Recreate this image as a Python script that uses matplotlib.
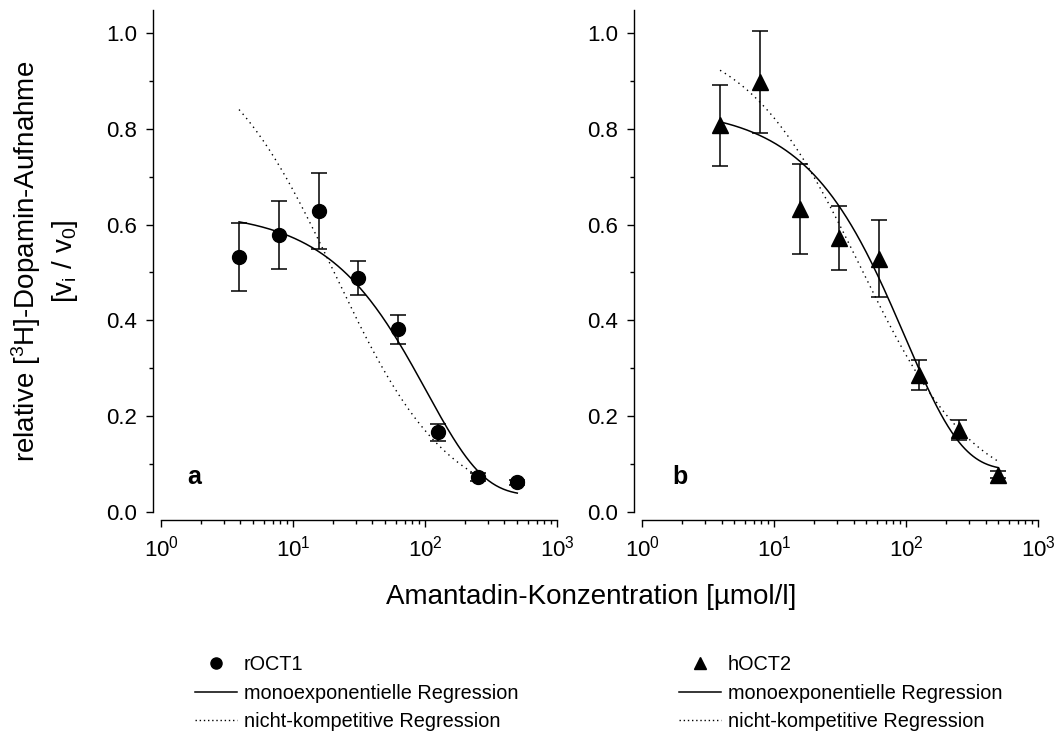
import numpy as np
import matplotlib.pyplot as plt
from matplotlib.lines import Line2D
from matplotlib.legend_handler import HandlerLine2D
from matplotlib.ticker import MultipleLocator, LogLocator, NullFormatter

plt.rcParams['font.family'] = ['Liberation Sans', 'DejaVu Sans']
plt.rcParams['mathtext.default'] = 'regular'

# Amantadin concentrations [umol/l]
conc = [3.9, 7.8, 15.6, 31.25, 62.5, 125, 250, 500]

# rOCT1 (panel a)
roct1_mean = [0.532, 0.578, 0.628, 0.489, 0.381, 0.166, 0.073, 0.062]
roct1_err = [0.071, 0.071, 0.079, 0.036, 0.030, 0.017, 0.008, 0.005]

# hOCT2 (panel b)
hoct2_mean = [0.807, 0.898, 0.632, 0.572, 0.529, 0.286, 0.171, 0.078]
hoct2_err = [0.085, 0.106, 0.094, 0.067, 0.080, 0.031, 0.020, 0.007]

# regression parameters
# monoexponential: v = c + a * exp(-k * x)
mono_a = [0.593, 0.756]
mono_k = [0.0098, 0.0102]
mono_c = [0.035, 0.088]
# non-competitive: v = bottom + (top - bottom) / (1 + x / Ki)
nc_top = [1.0, 1.0]
nc_bottom = [0.0, 0.025]
nc_ki = [20.5, 45.0]
nc_xmax = [250, 500]

markers = ['o', '^']
msizes = [10, 11]
names = ['rOCT1', 'hOCT2']
panel = ['a', 'b']
panel_x = [0.066, 0.076]
means = [roct1_mean, hoct2_mean]
errs = [roct1_err, hoct2_err]
legend_x = [0.184, 0.6405]


class LeftMarker(HandlerLine2D):
    # put the legend marker near the left end of the handle
    def get_xdata(self, legend, xdescent, ydescent, width, height, fontsize):
        xdata, _ = super().get_xdata(legend, xdescent, ydescent, width, height, fontsize)
        return xdata, [-xdescent + 0.5 * fontsize]


fig = plt.figure(figsize=(10.6, 7.42), dpi=100)
ax1 = fig.add_axes([0.1519, 0.3100, 0.3736, 0.6765])
ax2 = fig.add_axes([0.6057, 0.3100, 0.3736, 0.6765])

for i, ax in enumerate([ax1, ax2]):
    ax.errorbar(conc, means[i], yerr=errs[i], fmt=markers[i], color='k',
                ms=msizes[i], ecolor='k', elinewidth=1.1, capsize=6,
                capthick=1.1, zorder=3)
    xs = np.logspace(np.log10(conc[0]), np.log10(conc[-1]), 300)
    ax.plot(xs, mono_c[i] + mono_a[i] * np.exp(-mono_k[i] * xs), 'k-', lw=1.1)
    xd = np.logspace(np.log10(conc[0]), np.log10(nc_xmax[i]), 300)
    ax.plot(xd, nc_bottom[i] + (nc_top[i] - nc_bottom[i]) / (1 + xd / nc_ki[i]),
            color='k', lw=1.0, ls=(0, (1, 3)))

    ax.set_xscale('log')
    ax.set_xlim(1, 1000)
    ax.set_ylim(0, 1.048)
    ax.set_yticks([0.0, 0.2, 0.4, 0.6, 0.8, 1.0])
    ax.set_yticklabels(['0.0', '0.2', '0.4', '0.6', '0.8', '1.0'])
    ax.yaxis.set_minor_locator(MultipleLocator(0.1))
    ax.xaxis.set_minor_locator(LogLocator(base=10, subs=np.arange(2, 10)))
    ax.xaxis.set_minor_formatter(NullFormatter())
    for s in ['top', 'right']:
        ax.spines[s].set_visible(False)
    for s in ['left', 'bottom']:
        ax.spines[s].set_position(('outward', 6))
        ax.spines[s].set_linewidth(1.0)
    ax.tick_params(which='major', direction='out', length=5, width=1.0,
                   labelsize=16, pad=6)
    ax.tick_params(which='minor', direction='out', length=3, width=1.0)
    ax.text(panel_x[i], 0.07, panel[i], transform=ax.transAxes,
            fontsize=18, fontweight='bold', va='center', ha='left')

    mk = Line2D([], [], marker=markers[i], ls='none', color='k', ms=8)
    handles = [mk,
               Line2D([], [], color='k', lw=1.1),
               Line2D([], [], color='k', lw=1.0, ls=(0, (1, 2)))]
    labels = [names[i], 'monoexponentielle Regression', 'nicht-kompetitive Regression']
    fig.legend(handles, labels, loc='upper left', bbox_to_anchor=(legend_x[i], 0.117),
               frameon=False, fontsize=14.3, handlelength=2.1,
               handletextpad=0.35, labelspacing=0.48, borderpad=0,
               borderaxespad=0, handler_map={mk: LeftMarker()})

fig.text(0.042, 0.648, 'relative [$^3$H]-Dopamin-Aufnahme\n[v$_i$ / v$_0$]',
         rotation=90, ha='center', va='center', fontsize=20,
         multialignment='center', linespacing=1.3)
fig.text(0.558, 0.195, 'Amantadin-Konzentration [µmol/l]', ha='center', va='center',
         fontsize=20)

fig.savefig('out.png', dpi=100)
